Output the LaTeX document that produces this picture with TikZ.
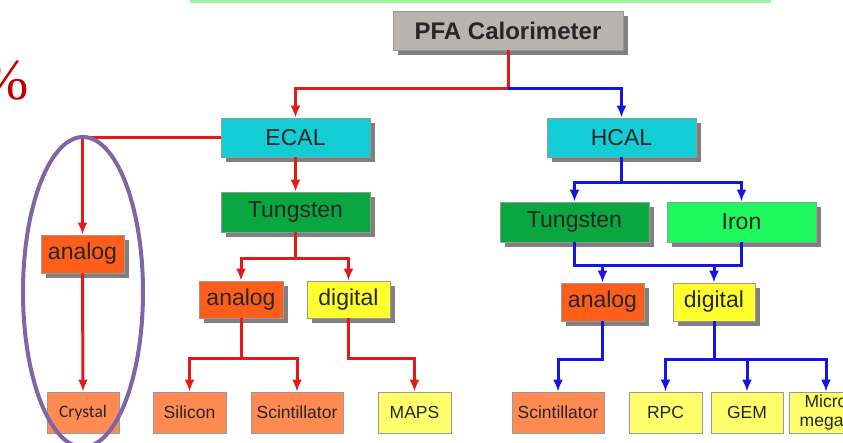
\documentclass[tikz,border=0pt]{standalone}
\usepackage{fontspec}
\setmainfont{Liberation Sans}
\newfontfamily\crystalfont{Carlito}
\newfontfamily\pctfont{Liberation Serif}
\usetikzlibrary{arrows.meta,shadows}

\definecolor{pfagray}{HTML}{B8B3AC}
\definecolor{calcyan}{HTML}{12CDD4}
\definecolor{wgreen}{HTML}{0AA63F}
\definecolor{fegreen}{HTML}{1DF85C}
\definecolor{anaorange}{HTML}{FF5E1A}
\definecolor{digyellow}{HTML}{FFFF2E}
\definecolor{leaforange}{HTML}{FF8A52}
\definecolor{leafyellow}{HTML}{FFFF6B}
\definecolor{wirered}{HTML}{E31A1A}
\definecolor{wireblue}{HTML}{1414E6}
\definecolor{ringpurple}{HTML}{7F65A8}
\definecolor{topgreen}{HTML}{9AF59A}
\definecolor{pctred}{HTML}{C00000}

\begin{document}
\begin{tikzpicture}[x=1pt,y=-1pt,
  box/.style={draw=black!40,line width=0.8pt,inner sep=0pt,text=black!85,
    font=\fontsize{23}{26}\selectfont},
  shbox/.style={box,drop shadow={shadow xshift=5pt,shadow yshift=-5pt,
    fill=black!50,opacity=1}},
  wide/.style={shbox,minimum width=149pt,minimum height=40pt},
  mid/.style={shbox,minimum width=83pt,minimum height=38pt},
  leaf/.style={box,minimum width=73pt,minimum height=41pt,
    font=\fontsize{17.5}{19}\selectfont},
  redwire/.style={draw=wirered,line width=3pt},
  bluewire/.style={draw=wireblue,line width=3pt},
  redarr/.style={redwire,-{Latex[length=12pt,width=10pt]}},
  bluearr/.style={bluewire,-{Latex[length=12pt,width=10pt]}}]
  \useasboundingbox (0,0) rectangle (843,442);
  \clip (0,0) rectangle (843,442);
  \fill[topgreen] (190,-3) rectangle (771,3);
  \node[anchor=base east,inner sep=0pt,text=pctred,
    font=\pctfont\fontsize{58}{60}\selectfont] (pct) at (29,99) {\%};
  % top of the tree
  \node[shbox,fill=pfagray,minimum width=230pt,minimum height=39pt,
    font=\bfseries\fontsize{24}{27}\selectfont] (pfa) at (508,30.5) {PFA Calorimeter};
  \node[wide,fill=calcyan,minimum height=39pt] (ecal) at (295.5,137.5) {ECAL};
  \node[wide,fill=calcyan,minimum height=39pt] (hcal) at (621.5,137.5) {HCAL};
  \coordinate (ptop) at (508,88);
  \draw[redwire] (pfa.south) -- (ptop);
  \draw[redarr] (ptop) -| (ecal.north);
  \draw[bluearr] (ptop) -| (hcal.north);
  % ECAL side
  \node[mid,fill=anaorange] (ana0) at (82.5,254) {analog};
  \node[leaf,fill=leaforange,minimum width=72pt,
    font=\crystalfont\fontsize{17.5}{19}\selectfont] (crystal) at (83,412.5) {Crystal};
  \draw[redarr] (ecal.west) -| (ana0.north);
  \draw[redarr] (ana0.south) -- (crystal.north);
  \node[wide,fill=wgreen] (wE) at (295.5,212) {Tungsten};
  \draw[redarr] (ecal.south) -- (wE.north);
  \node[mid,fill=anaorange,minimum width=84pt,minimum height=37pt] (anaE) at (241,299.5) {analog};
  \node[mid,fill=digyellow,minimum height=37pt] (digE) at (348.5,299.5) {digital};
  \draw[redwire] (wE.south) -- ++(0,26) coordinate (jE);
  \draw[redarr] (jE) -| (anaE.north);
  \draw[redarr] (jE) -| (digE.north);
  \node[leaf,fill=leaforange] (silicon) at (189.5,412.5) {Silicon};
  \node[leaf,fill=leaforange,minimum width=92pt] (scintE) at (297,412.5) {Scintillator};
  \node[leaf,fill=leafyellow] (maps) at (414.5,412.5) {MAPS};
  \draw[redwire] (anaE.south) -- ++(0,40) coordinate (jA);
  \draw[redarr] (jA) -| (silicon.north);
  \draw[redarr] (jA) -| (scintE.north);
  \draw[redarr] (digE.south) -- ++(0,40) -| (maps.north);
  % HCAL side
  \node[wide,fill=wgreen] (wH) at (574.5,222) {Tungsten};
  \node[wide,fill=fegreen] (iron) at (741.5,222) {Iron};
  \draw[bluewire] (hcal.south) -- ++(0,25) coordinate (jH);
  \draw[bluearr] (jH) -| (wH.north);
  \draw[bluearr] (jH) -| (iron.north);
  \node[mid,fill=anaorange] (anaH) at (602.5,302) {analog};
  \node[mid,fill=digyellow,minimum width=82pt] (digH) at (714,302) {digital};
  \draw[bluewire] (wH.south) -- ++(0,23) coordinate (jW) -| (iron.south);
  \draw[bluearr] (anaH.north |- jW) -- (anaH.north);
  \draw[bluearr] (digH.north |- jW) -- (digH.north);
  \node[leaf,fill=leaforange,minimum width=92pt] (scintH) at (558,412.5) {Scintillator};
  \node[leaf,fill=leafyellow] (rpc) at (665.5,412.5) {RPC};
  \node[leaf,fill=leafyellow,minimum width=72pt] (gem) at (747,412.5) {GEM};
  \node[leaf,fill=leafyellow,minimum width=74pt,align=center,
    font=\fontsize{17.5}{19}\selectfont] (micro) at (826,412.5) {Micro\\megas};
  \draw[bluearr] (anaH.south) -- ++(0,38) -| (scintH.north);
  \draw[bluewire] (digH.south) -- ++(0,38) coordinate (jD);
  \draw[bluearr] (jD) -| (rpc.north);
  \draw[bluearr] (jD) -| (gem.north);
  \draw[bluearr] (jD) -| (micro.north);
  % ring round the crystal branch
  \draw[ringpurple,line width=4pt] (83,292) ellipse (60pt and 155pt);
\end{tikzpicture}
\end{document}
